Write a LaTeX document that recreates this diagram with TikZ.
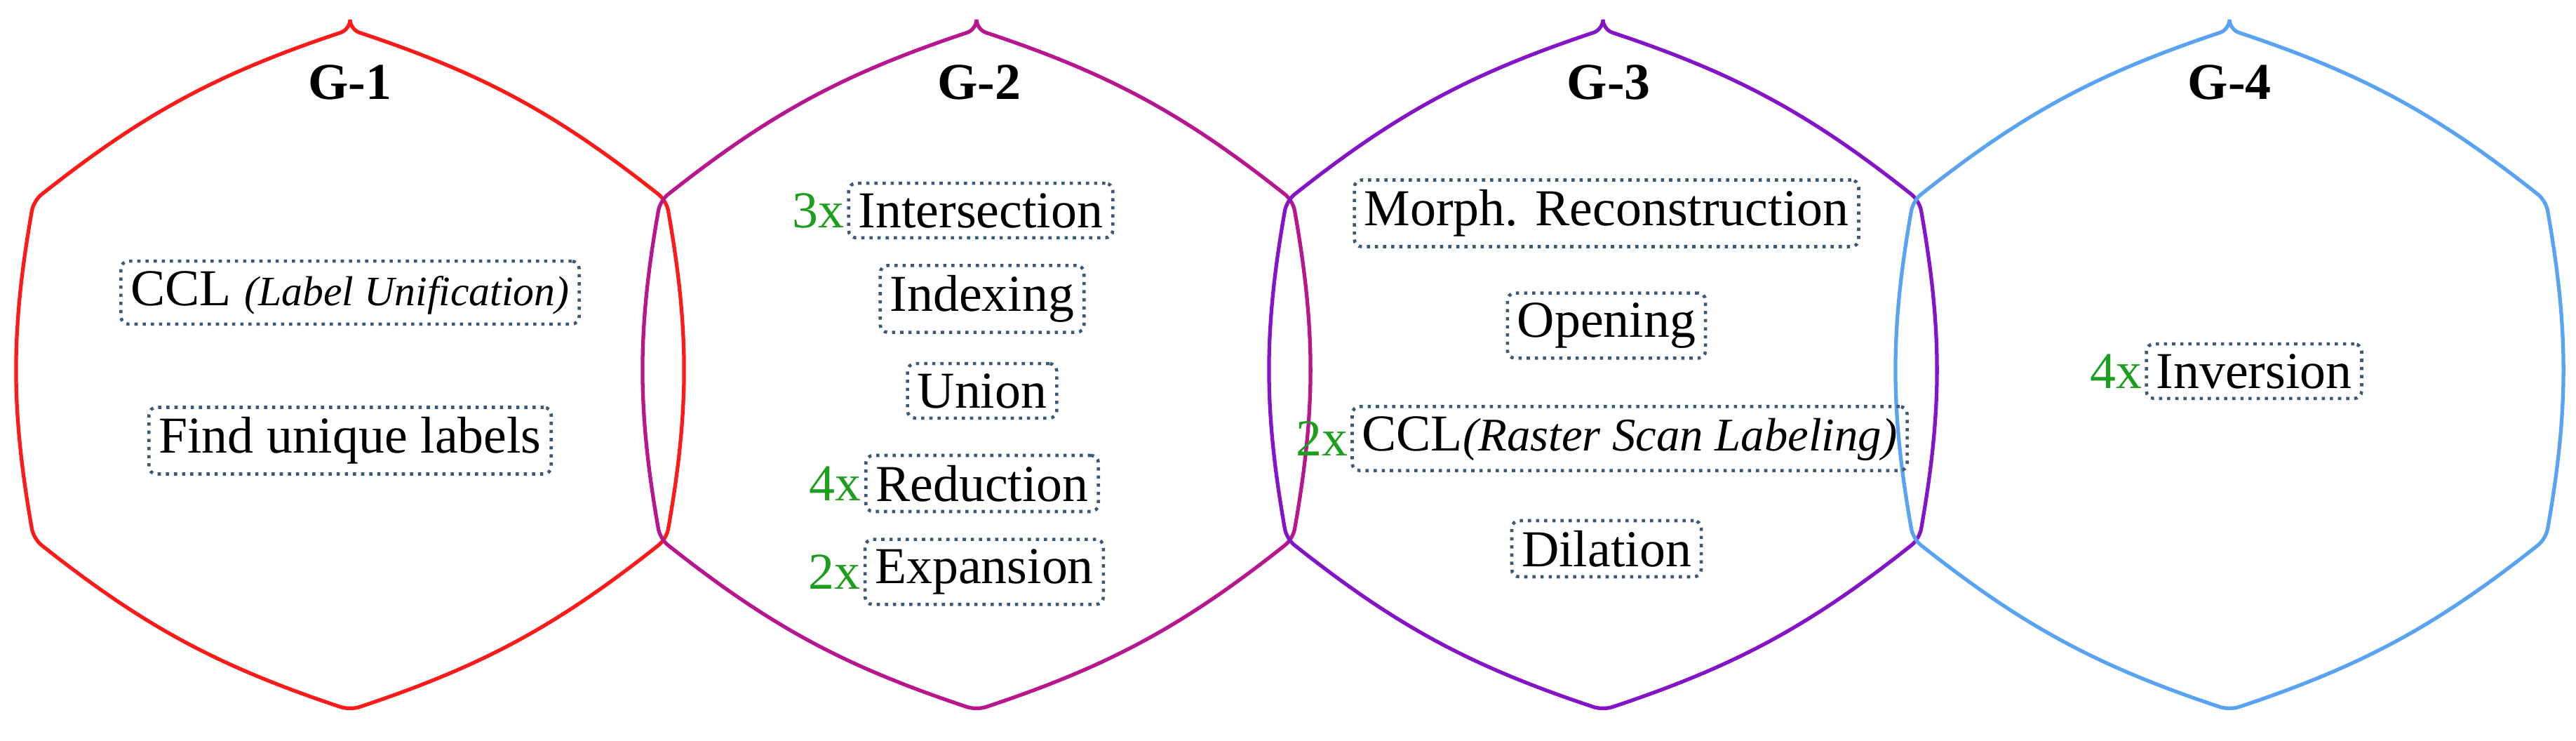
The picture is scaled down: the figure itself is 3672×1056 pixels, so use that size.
\documentclass[tikz,border=0pt]{standalone}
\usepackage{fontspec}
\setmainfont{Liberation Serif}
\definecolor{gA}{HTML}{FF1A1A}
\definecolor{gB}{HTML}{B8168E}
\definecolor{gC}{HTML}{8414C8}
\definecolor{gD}{HTML}{5AA2F2}
\definecolor{bx}{HTML}{3A5A78}
\definecolor{gr}{HTML}{1E9E1E}
\begin{document}
\begin{tikzpicture}[x=0.1mm,y=-0.1mm,
  hex/.style={line width=1.5pt,rounded corners=4pt},
  op/.style={draw=bx,dotted,line width=1.3pt,rounded corners=3pt,inner sep=4pt,font=\fontsize{21}{24}\selectfont},
  ttl/.style={font=\fontsize{21}{24}\selectfont\bfseries},
  rep/.style={text=gr,font=\fontsize{21}{24}\selectfont,inner sep=1pt}]
\useasboundingbox (0,0) rectangle (3672,1056);
\foreach \i/\cx/\c in {1/499/gA,2/1392/gB,3/2285/gC,4/3178/gD}{
  \coordinate (t\i) at (\cx,42);
  \coordinate (ur\i) at (\cx+451,286);
  \coordinate (lr\i) at (\cx+451,768);
  \coordinate (b\i) at (\cx,1012);
  \coordinate (ll\i) at (\cx-451,768);
  \coordinate (ul\i) at (\cx-451,286);
  \draw[hex,\c] (t\i) to[bend left=10] (ur\i) to[bend left=10] (lr\i) to[bend left=10] (b\i)
     to[bend left=10] (ll\i) to[bend left=10] (ul\i) to[bend left=10] (t\i) -- cycle;
}
\node[ttl] (h1) at (499,117) {G-1};
\node[ttl] (h2) at (1396,117) {G-2};
\node[ttl] (h3) at (2293,117) {G-3};
\node[ttl] (h4) at (3178,117) {G-4};
% G-1
\node[op] (a1) at (499,417) {CCL \textit{\fontsize{17}{20}\selectfont(Label Unification)}};
\node[op] (a2) at (499,628) {Find unique labels};
% G-2
\node[op] (b1) at (1398,300) {Intersection};
\node[op] (b2) at (1400,426) {Indexing};
\node[op] (b3) at (1400,557) {Union};
\node[op] (b4) at (1400,689) {Reduction};
\node[op] (b5) at (1403,815) {Expansion};
\node[rep,anchor=east] (rb1) at (b1.west) {3x};
\node[rep,anchor=east] (rb4) at (b4.west) {4x};
\node[rep,anchor=east] (rb5) at (b5.west) {2x};
% G-3
\node[op] (c1) at (2290,304) {Morph. Reconstruction};
\node[op] (c2) at (2290,464) {Opening};
\node[op] (c3) at (2323,625) {CCL\textit{\fontsize{19}{22}\selectfont(Raster Scan Labeling)}};
\node[op] (c4) at (2290,782) {Dilation};
\node[rep,anchor=east] (rc3) at (c3.west) {2x};
% G-4
\node[op] (d1) at (3213,529) {Inversion};
\node[rep,anchor=east] (rd1) at (d1.west) {4x};
\end{tikzpicture}
\end{document}
